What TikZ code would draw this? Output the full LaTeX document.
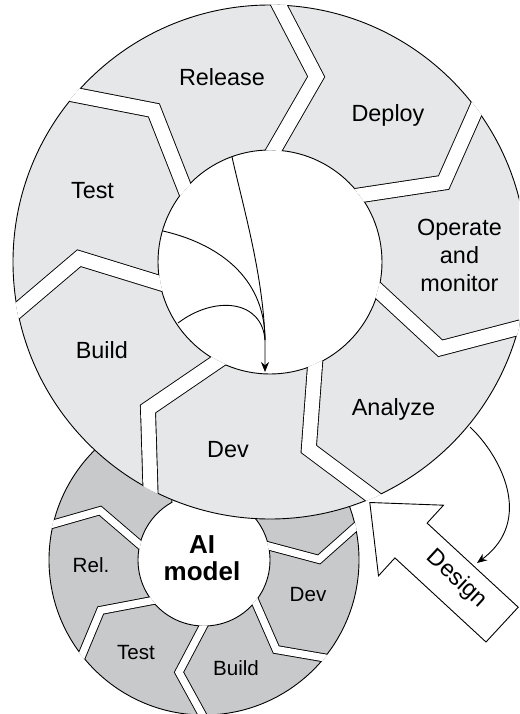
\documentclass[tikz,border=0pt]{standalone}
\usepackage{fontspec}
\setmainfont{Liberation Sans}
\usetikzlibrary{calc,arrows.meta}
\definecolor{ringlight}{RGB}{230,231,232}
\definecolor{ringdark}{RGB}{200,201,203}

% Seven chevron-shaped gaps cut into a ring.
% #1 centre, #2 inner radius, #3 outer radius, #4 bend radius,
% #5 angle of the first boundary, #6 white gap width, #7 gap width with its edges
\newcommand\ringgaps[7]{%
  \begin{scope}[even odd rule]
    \clip (#1) circle[radius=#3] (#1) circle[radius=#2];
    \foreach \k in {0,...,6}{
      \pgfmathsetmacro\gA{#5+\k*360/7}
      \coordinate (go) at ($(#1)+(\gA:#3)$);
      \coordinate (gb) at ($(#1)+(\gA+12:#4)$);
      \coordinate (gi) at ($(#1)+(\gA:#2)$);
      \draw[black, line width=#7pt, line join=miter]
        ($(gb)!1.5!(go)$) -- (gb) -- ($(gb)!1.5!(gi)$);
    }
  \end{scope}
  \begin{scope}[even odd rule]
    \clip (#1) circle[radius=#3+0.6] (#1) circle[radius=#2-0.6];
    \foreach \k in {0,...,6}{
      \pgfmathsetmacro\gA{#5+\k*360/7}
      \coordinate (go) at ($(#1)+(\gA:#3)$);
      \coordinate (gb) at ($(#1)+(\gA+12:#4)$);
      \coordinate (gi) at ($(#1)+(\gA:#2)$);
      \draw[white, line width=#6pt, line join=miter]
        ($(gb)!1.5!(go)$) -- (gb) -- ($(gb)!1.5!(gi)$);
    }
  \end{scope}
}

\begin{document}
\begin{tikzpicture}[x=1pt,y=-1pt,
  outline/.style={draw=black,line width=0.9pt},
  biglbl/.style={font=\fontsize{23.4}{28}\selectfont, inner sep=0pt, anchor=base},
  smalllbl/.style={font=\fontsize{20.6}{25}\selectfont, inner sep=0pt, anchor=base},
  flow/.style={line width=0.9pt},
  tipped/.style={-{Stealth[length=10pt,width=8pt]}}
]
\useasboundingbox (0,0) rectangle (519,714);
\clip (0,0) rectangle (519,714);

% ---------- small wheel (AI model cycle) ----------
\coordinate (sc) at (204,560);
\fill[ringdark, even odd rule] (sc) circle[radius=155] (sc) circle[radius=66];
\draw[outline] (sc) circle[radius=155] (sc) circle[radius=66];
\ringgaps{sc}{66}{155}{115}{142}{7.2}{9}
\node[font=\bfseries\fontsize{26}{27}\selectfont, align=center, inner sep=0pt]
  (aimodel) at (202,558) {AI\\model};
\node[smalllbl] (srel)   at (91,572.7) {Rel.};
\node[smalllbl] (stest)  at (136,659)  {Test};
\node[smalllbl] (sbuild) at (236,675)  {Build};
\node[smalllbl] (sdev)   at (308,601)  {Dev};

% ---------- big wheel (software cycle) ----------
\coordinate (bc) at (270,262);
\fill[white] (bc) circle[radius=257];
\fill[ringlight, even odd rule] (bc) circle[radius=257] (bc) circle[radius=112];
\draw[outline] (bc) circle[radius=257] (bc) circle[radius=112];
\ringgaps{bc}{112}{257}{191}{-88}{14}{15.8}

\node[biglbl] (release) at (222,86)    {Release};
\node[biglbl] (deploy)  at (388,122)   {Deploy};
\node[biglbl] (test)    at (92.5,198)  {Test};
\node[font=\fontsize{23.4}{28}\selectfont, align=center, inner sep=0pt]
  (operate) at (459.5,255) {Operate\\and\\monitor};
\node[biglbl] (build)   at (101.8,358.3) {Build};
\node[biglbl] (analyze) at (393.5,415) {Analyze};
\node[biglbl] (dev)     at (228,457)   {Dev};

% feedback paths into Dev
\coordinate (fr) at (232,157);
\coordinate (ft) at (163,231);
\coordinate (fb) at (178,323);
\coordinate (fj) at (265,340);
\coordinate (fd) at (265,372);
\draw[flow] (ft) .. controls (215,243) and (265,275) .. (fj);
\draw[flow] (fb) .. controls (215,295) and (262,300) .. (fj);
\draw[flow, tipped] (fr) .. controls (244,210) and (263,275) .. (fj) -- (fd);

% ---------- Design block arrow ----------
\fill[white, outline, line join=miter]
  (369.8,502.5) -- (443.5,505.2) -- (427.1,523.1) -- (518.2,607.2)
  -- (486,642) -- (394.9,557.9) -- (378.5,575.8) -- cycle;
\node[font=\fontsize{23.4}{28}\selectfont, inner sep=0pt, rotate=-42.7,
  text height=0.72em, text depth=0pt] (design) at (455,581) {Design};

% Analyze feeds back into Design
\coordinate (an) at (470,427);
\coordinate (dg) at (477,563);
\draw[flow, tipped] (an) .. controls (500,455) and (535,520) .. (dg);
\end{tikzpicture}
\end{document}
